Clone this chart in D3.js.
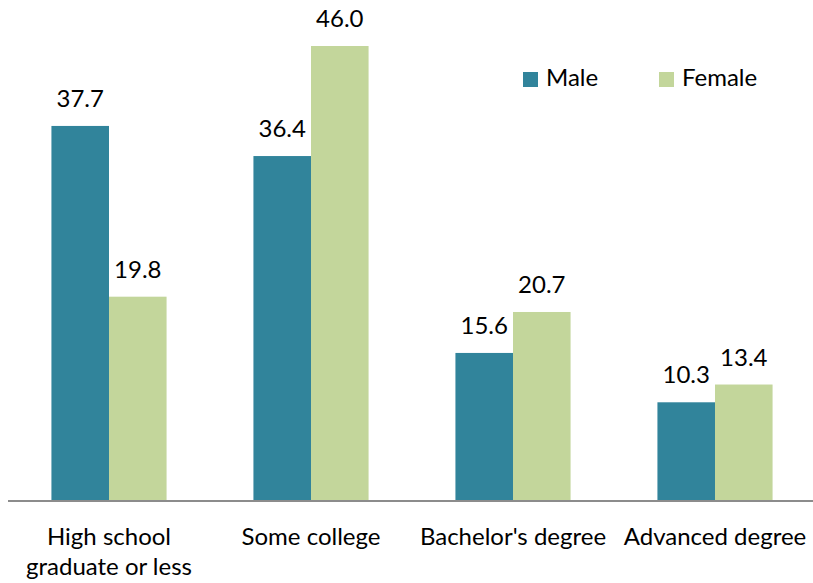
<!DOCTYPE html>
<html>
<head>
<meta charset="utf-8">
<script src="https://cdn.jsdelivr.net/npm/d3@7"></script>
<style>
html,body{margin:0;padding:0;background:#fff;}
svg{display:block;font-family:"Lato",sans-serif;}
</style>
</head>
<body>
<svg id="chart" width="813" height="583"></svg>
<script>
const categories = [["High school","graduate or less"],["Some college"],["Bachelor's degree"],["Advanced degree"]];
const seriesNames = ["Male","Female"];
// data labels as printed on the chart
const maleLabels = [37.7, 36.4, 15.6, 10.3];
const femaleLabels = [19.8, 46.0, 20.7, 13.4];
// bar heights as drawn in the picture
const maleBars = [37.9, 34.85, 14.9, 9.9];
const femaleBars = [20.6, 46.0, 19.05, 11.7];
const colors = ["#31849B", "#C3D69B"];

const svg = d3.select("#chart");
const baseY = 500;
const catKeys = categories.map(c => c.join(" "));
const x = d3.scaleBand().domain(catKeys).range([8, 816]).paddingInner(0.43).paddingOuter(0.215);
const xs = d3.scaleBand().domain(seriesNames).range([0, x.bandwidth()]);
const y = d3.scaleLinear().domain([0, 46]).range([baseY, 46]);

const data = catKeys.map((k, i) => ({
  key: k,
  items: [
    {s: "Male", j: 0, bar: maleBars[i], label: maleLabels[i]},
    {s: "Female", j: 1, bar: femaleBars[i], label: femaleLabels[i]}
  ]
}));

const g = svg.selectAll("g.cat").data(data).join("g")
  .attr("class", "cat")
  .attr("transform", d => `translate(${x(d.key)},0)`);

g.selectAll("rect").data(d => d.items)
  .join("rect")
  .attr("x", d => xs(d.s))
  .attr("y", d => y(d.bar))
  .attr("width", xs.bandwidth())
  .attr("height", d => baseY - y(d.bar))
  .attr("fill", d => colors[d.j]);

g.selectAll("text.val").data(d => d.items)
  .join("text")
  .attr("class", "val")
  .attr("x", d => xs(d.s) + xs.bandwidth() / 2)
  .attr("y", d => y(d.bar) - 19)
  .attr("text-anchor", "middle")
  .attr("font-size", 24)
  .attr("fill", "#000")
  .text(d => d.label.toFixed(1));

// axis line
svg.append("line").attr("x1", 8).attr("x2", 813).attr("y1", baseY + 1).attr("y2", baseY + 1)
  .attr("stroke", "#8c8c8c").attr("stroke-width", 2);

// category labels
categories.forEach((lines, i) => {
  const cx = x(catKeys[i]) + x.bandwidth() / 2;
  const t = svg.append("text")
    .attr("x", cx)
    .attr("y", 545)
    .attr("text-anchor", "middle")
    .attr("font-size", 24)
    .attr("fill", "#000");
  lines.forEach((ln, li) => {
    t.append("tspan").attr("x", cx).attr("dy", li === 0 ? 0 : 30).text(ln);
  });
});

// legend
const legX = [523, 659];
seriesNames.forEach((s, i) => {
  svg.append("rect").attr("x", legX[i]).attr("y", 72).attr("width", 15).attr("height", 15).attr("fill", colors[i]);
  svg.append("text").attr("x", legX[i] + 23).attr("y", 86).attr("font-size", 24).attr("fill", "#000").text(s);
});
</script>
</body>
</html>
